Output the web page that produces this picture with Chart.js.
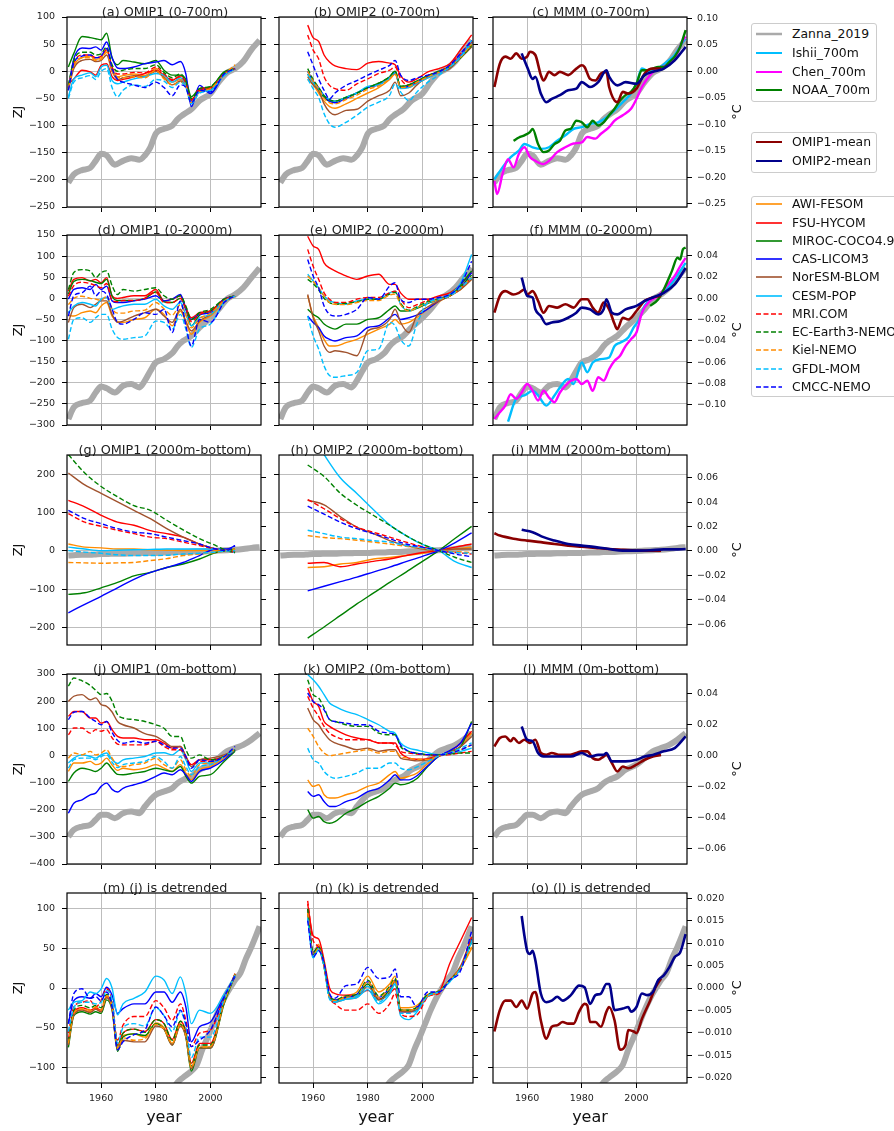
<!DOCTYPE html>
<html><head><meta charset="utf-8">
<script src="https://cdn.jsdelivr.net/npm/chart.js@4.4.1/dist/chart.umd.min.js"></script>
<style>
html,body{margin:0;padding:0;background:#fff;}
body{width:894px;height:1131px;overflow:hidden;position:relative;font-family:"DejaVu Sans",sans-serif;color:#111;}
canvas{position:absolute;}
.leg{position:absolute;background:#fff;border:1px solid #cccccc;border-radius:3px;box-sizing:border-box;}
.leg .it{position:absolute;left:0;height:18px;white-space:nowrap;}
.leg span{position:absolute;left:40px;top:0;line-height:18px;font-size:12.4px;color:#111;}
</style></head><body>
<script>
// ---------------- DATA ----------------
const MODELS = ['AWI-FESOM','FSU-HYCOM','MIROC-COCO4.9','CAS-LICOM3','NorESM-BLOM','CESM-POP','MRI.COM','EC-Earth3-NEMO','Kiel-NEMO','GFDL-MOM','CMCC-NEMO'];
const TITLES = ['(a) OMIP1 (0-700m)','(b) OMIP2 (0-700m)','(c) MMM (0-700m)','(d) OMIP1 (0-2000m)','(e) OMIP2 (0-2000m)','(f) MMM (0-2000m)','(g) OMIP1 (2000m-bottom)','(h) OMIP2 (2000m-bottom)','(i) MMM (2000m-bottom)','(j) OMIP1 (0m-bottom)','(k) OMIP2 (0m-bottom)','(l) MMM (0m-bottom)','(m) (j) is detrended','(n) (k) is detrended','(o) (l) is detrended'];
// axis ranges and tick labels per row
const zjRange = [[-250,100],[-300,150],[-245,250],[-400,300],[-120,120]];
const zjTicks = [
  [100,50,0,-50,-100,-150,-200,-250],
  [150,100,50,0,-50,-100,-150,-200,-250,-300],
  [200,100,0,-100,-200],
  [300,200,100,0,-100,-200,-300,-400],
  [100,50,0,-50,-100]
];
const degTicks = [
  [0.10,0.05,0.00,-0.05,-0.10,-0.15,-0.20,-0.25],
  [0.04,0.02,0.00,-0.02,-0.04,-0.06,-0.08,-0.10],
  [0.06,0.04,0.02,0.00,-0.02,-0.04,-0.06],
  [0.04,0.02,0.00,-0.02,-0.04,-0.06],
  [0.020,0.015,0.010,0.005,0.000,-0.005,-0.010,-0.015,-0.020]
];
const degDec = [2,2,2,2,3];
// ZJ -> degC conversion factor per row
const degPerZJ = [0.001023,0.000396,0.000315,0.000175,0.000177];
const yearTicks = [1960,1980,2000];

const G1 = [1948,1950,1953,1956,1958,1960,1962,1964,1966,1968,1972,1976,1980,1983,1986,1989,1991,1993,1996,2000,2005,2009];
const G2 = [1958,1960,1962,1964,1966,1968,1972,1976,1980,1984,1988,1990,1992,1995,1998,2002,2006,2010,2014,2018];
const GZ = [1948,1950,1953,1956,1958,1960,1962,1965,1968,1971,1974,1976,1978,1980,1983,1986,1988,1990,1993,1996,2000,2003,2006,2009,2012,2015,2018];

// Zanna_2019 per depth range (ZJ)
const z1 = [-205,-190,-182,-178,-165,-152,-155,-172,-165,-160,-163,-155,-140,-115,-106,-100,-88,-80,-70,-54,-41,-20,-3,5,18,40,57];
const z2 = [-286,-258,-248,-242,-223,-209,-213,-223,-207,-203,-211,-195,-172,-152,-144,-130,-113,-101,-89,-69,-46,-26,-2,9,25,49,72];
const z3 = [-12,-11,-10,-10,-9,-8,-8,-7,-7,-6,-6,-5,-5,-5,-4,-4,-3,-3,-2,-1,0,1,2,3,5,8,10];
const z4 = [-299,-274,-262,-256,-237,-219,-219,-231,-213,-207,-213,-188,-164,-145,-133,-121,-102,-90,-77,-53,-34,-10,15,27,39,58,82];
const z5yrs = [1985,1988,1990,1993,1995,1997,1999,2001,2003,2005,2007,2009,2011,2013,2015,2017,2018];
const z5 = [-135,-119,-113,-105,-97,-78,-62,-45,-28,-13,-1,10,19,37,52,69,78];

// (a) OMIP1 0-700m
const a_AWI = [-30,10,25,28,22,25,38,5,-10,-8,-5,-8,5,-10,-20,-15,-25,-55,-35,-30,-5,5];
const a_FSU = [-23,-14,2,-1,-7,11,14,-10,-17,-15,-10,-4,2,-7,-17,-8,-20,-54,-35,-32,-7,5];
const a_MIROC = [8,33,64,62,60,58,70,25,12,20,17,14,20,2,-7,-7,-15,-47,-32,-29,-1,5];
const a_CAS = [-32,23,43,42,45,39,54,25,6,5,8,14,17,20,12,18,-5,-65,-26,-41,-5,5];
const a_NorESM = [-35,5,20,22,18,20,30,0,-15,-12,-8,-10,0,-12,-25,-18,-28,-58,-38,-33,-6,5];
const a_CESM = [-47,-14,-7,-3,-10,8,11,-17,-23,-20,-14,-10,-4,-7,-20,-12,-25,-57,-38,-35,-7,5];
const a_MRI = [-28,15,30,30,25,28,40,8,-5,-5,-2,-3,8,-5,-15,-10,-22,-52,-32,-30,-4,5];
const a_EC = [-25,20,35,35,30,32,45,12,0,2,5,5,12,-2,-12,-5,-18,-50,-32,-28,-3,5];
const a_Kiel = [-30,10,25,25,20,22,35,0,-12,-12,-10,-12,2,-14,-25,-20,-28,-58,-38,-32,-6,12];
const a_GFDL = [-50,-20,-12,-8,-15,0,5,-30,-47,-35,-25,-28,-15,-18,-30,-20,-30,-60,-40,-36,-8,5];
const a_CMCC = [-35,15,28,30,25,28,42,5,-15,-20,-25,-30,-20,-30,-45,-25,-30,-58,-35,-38,-5,5];

// (b) OMIP2 0-700m
const b_AWI = [-15,-25,-40,-55,-65,-68,-60,-50,-40,-30,-15,-5,-30,-30,-22,-12,-3,8,25,48];
const b_FSU = [85,62,55,30,17,10,5,3,15,18,15,12,-8,-20,-14,-1,5,14,40,67];
const b_MIROC = [-5,-20,-35,-48,-55,-55,-48,-40,-30,-22,-10,0,-28,-25,-18,-8,0,8,25,45];
const b_CAS = [0,-18,-30,-45,-55,-58,-50,-40,-30,-25,-12,-3,-30,-28,-20,-10,-2,8,28,55];
const b_NorESM = [-10,-25,-35,-60,-75,-80,-72,-70,-55,-45,-35,-20,-45,-40,-25,-10,-3,5,25,45];
const b_CESM = [-5,-20,-32,-45,-52,-55,-48,-40,-28,-25,-12,-3,-32,-30,-22,-12,-3,8,26,52];
const b_MRI = [67,39,23,-10,-26,-32,-35,-23,-14,-4,2,8,-14,-26,-20,-8,-1,11,33,54];
const b_EC = [5,-15,-30,-45,-52,-55,-48,-40,-30,-22,-10,0,-28,-25,-18,-8,0,8,25,48];
const b_Kiel = [0,-18,-32,-50,-58,-60,-52,-44,-33,-27,-14,-5,-30,-28,-20,-10,-2,8,26,50];
const b_GFDL = [-14,-32,-48,-78,-97,-103,-94,-81,-66,-57,-44,-23,-38,-54,-38,-20,-7,8,27,57];
const b_CMCC = [36,11,-14,-35,-51,-40,-26,-17,-7,2,11,20,-7,-17,-12,-7,-1,11,33,57];

// (c) MMM 0-700m and observations
const c_yrs1 = [1948,1950,1952,1954,1956,1958,1960,1961,1963,1965,1966,1968,1970,1972,1975,1978,1980,1981,1983,1985,1987,1989,1990,1993,1995,1997,2000,2003,2006,2009];
const c_OMIP1 = [-29,14,27,23,33,23,27,36,30,-7,-17,-1,-7,-1,-7,5,11,8,-14,-17,-4,-1,-29,-57,-38,-41,-32,-4,5,5];
const c_yrs2 = [1958,1960,1962,1963,1965,1967,1969,1972,1975,1978,1980,1983,1986,1989,1990,1993,1996,2000,2003,2006,2010,2014,2018];
const c_OMIP2 = [33,8,-14,-10,-41,-57,-51,-44,-35,-32,-20,-29,-20,2,-10,-26,-20,-23,-7,-1,5,20,45];
const c_yrsChen = [1948,1949,1951,1953,1955,1957,1959,1961,1963,1966,1968,1971,1974,1977,1980,1982,1985,1987,1990,1992,1995,1998,2000,2002,2005,2008,2011,2014,2017,2018];
const c_Chen = [-202,-226,-189,-162,-177,-152,-140,-158,-165,-171,-165,-149,-140,-133,-131,-121,-124,-115,-103,-91,-81,-69,-51,-29,-7,5,11,23,57,64];
const c_yrsIshii = [1948,1951,1954,1957,1959,1962,1965,1968,1971,1974,1977,1980,1983,1986,1989,1992,1995,1998,2000,2002,2005,2008,2011,2014,2017,2018];
const c_Ishii = [-199,-177,-158,-146,-134,-140,-143,-140,-128,-118,-106,-103,-97,-94,-85,-72,-57,-41,-23,5,-1,5,17,30,54,60];
const c_yrsNOAA = [1955,1957,1959,1961,1962,1964,1966,1968,1970,1972,1974,1976,1978,1980,1982,1984,1986,1988,1990,1992,1994,1996,1998,2000,2002,2004,2006,2008,2010,2012,2014,2016,2018];
const c_NOAA = [-128,-122,-118,-112,-106,-134,-149,-146,-134,-128,-109,-106,-91,-94,-103,-91,-100,-94,-81,-69,-54,-44,-38,-23,2,2,5,8,8,17,27,45,76];

// (d) OMIP1 0-2000m
const d_AWI = [-40,-42,-34,-30,-34,-18,-10,-42,-55,-57,-50,-46,-26,-38,-65,-30,-57,-85,-57,-42,-10,6];
const d_FSU = [17,45,49,41,45,37,49,6,0,2,6,6,21,-6,-2,6,-22,-46,-34,-30,-2,6];
const d_MIROC = [10,40,45,42,38,35,45,5,-5,-5,-5,0,15,-8,-10,0,-25,-65,-40,-30,-4,6];
const d_CAS = [-2,21,25,21,33,21,29,-6,-10,-10,-6,-2,6,-6,-2,9,-26,-50,-38,-34,-2,6];
const d_NorESM = [-57,-22,-14,-22,-14,-6,-6,-38,-57,-54,-42,-34,-26,-42,-57,-26,-54,-77,-54,-38,-6,6];
const d_CESM = [-34,-18,-10,-14,-18,-2,2,-26,-22,-18,-14,-14,-2,-18,-26,-10,-38,-65,-46,-38,-6,6];
const d_MRI = [5,30,38,35,30,25,35,-5,-8,-5,-5,0,15,-10,-10,0,-25,-55,-38,-30,-4,6];
const d_EC = [21,61,68,65,49,61,65,30,9,21,17,21,25,6,-2,6,-18,-50,-34,-26,-2,6];
const d_Kiel = [-15,0,5,0,-2,-5,5,-25,-35,-35,-30,-28,-10,-25,-40,-15,-40,-70,-48,-36,-6,6];
const d_GFDL = [-97,-50,-46,-57,-46,-38,-38,-73,-93,-97,-93,-89,-54,-57,-73,-38,-73,-116,-73,-61,-10,6];
const d_CMCC = [-42,6,13,29,6,17,9,-26,-57,-61,-50,-34,-38,-26,-81,-6,-65,-113,-50,-57,-10,6];

// (e) OMIP2 0-2000m
const e_AWI = [6,-42,-69,-97,-113,-113,-105,-97,-85,-73,-61,-50,-61,-57,-45,-25,-8,6,21,45];
const e_FSU = [147,124,116,84,72,65,53,45,53,57,33,33,13,-2,-2,-2,6,13,33,61];
const e_MIROC = [-26,-38,-46,-61,-69,-73,-61,-61,-50,-46,-26,-18,-30,-30,-24,-12,-2,9,33,65];
const e_CAS = [-42,-57,-69,-89,-97,-101,-93,-89,-69,-65,-46,-38,-50,-46,-40,-25,-6,6,25,61];
const e_NorESM = [9,-46,-77,-113,-128,-124,-128,-136,-77,-69,-50,-26,-57,-81,-40,-20,-6,6,21,45];
const e_CESM = [57,41,25,6,-6,-10,-14,-6,-2,-2,13,17,-14,-30,-22,-10,-2,9,37,104];
const e_MRI = [116,76,45,13,-2,-10,-10,-2,2,2,13,17,-2,-22,-15,-5,-2,6,25,49];
const e_EC = [45,35,20,0,-10,-14,-12,-8,-2,-2,10,14,-12,-28,-20,-8,-2,6,28,55];
const e_Kiel = [53,40,25,5,-10,-14,-15,-10,-5,-5,8,10,-15,-30,-22,-10,-3,5,25,50];
const e_GFDL = [-42,-89,-120,-160,-183,-187,-183,-175,-124,-120,-57,-65,-97,-113,-60,-10,-2,6,25,49];
const e_CMCC = [92,53,25,-18,-38,-42,-38,-26,2,-2,29,37,-2,-10,-2,-2,2,9,33,88];

// (f) MMM 0-2000m and observations
const f_yrs1 = [1948,1950,1952,1955,1957,1959,1960,1962,1964,1966,1968,1971,1974,1977,1980,1982,1984,1986,1988,1990,1992,1993,1995,1997,2000,2003,2006,2009];
const f_OMIP1 = [-34,6,17,9,13,21,9,17,-6,-34,-18,-22,-14,-22,-2,-2,-22,-34,-10,-26,-61,-73,-46,-50,-30,-6,2,6];
const f_yrs2 = [1958,1960,1962,1963,1965,1967,1969,1972,1975,1978,1980,1983,1986,1988,1989,1991,1993,1996,2000,2003,2006,2010,2014,2018];
const f_OMIP2 = [49,6,2,-26,-42,-61,-57,-54,-46,-34,-22,-26,-38,-26,-2,-34,-38,-26,-18,-6,2,13,33,72];
const f_yrsChen = [1948,1950,1952,1954,1956,1958,1960,1962,1964,1966,1968,1970,1972,1974,1976,1978,1980,1982,1984,1986,1988,1990,1992,1994,1996,1998,2000,2002,2005,2008,2011,2014,2016,2018];
const f_Chen = [-286,-270,-254,-227,-238,-223,-203,-219,-242,-219,-235,-246,-223,-207,-195,-191,-203,-195,-219,-187,-195,-168,-148,-136,-113,-97,-81,-34,-6,6,29,53,76,96];
const f_yrsIshii = [1953,1956,1959,1962,1964,1967,1970,1972,1975,1977,1980,1982,1984,1987,1990,1992,1994,1997,1999,2001,2003,2005,2008,2011,2014,2018];
const f_Ishii = [-292,-238,-230,-219,-230,-254,-230,-211,-191,-203,-152,-175,-152,-144,-140,-113,-105,-93,-69,-50,-18,-2,6,21,45,84];
const f_yrsNOAA = [2005,2008,2010,2013,2015,2016,2017,2018];
const f_NOAA = [-18,-2,21,65,96,92,116,120];

// (g) OMIP1 2000m-bottom
const yrsG = [1948,1954,1960,1966,1972,1978,1984,1990,1996,2002,2006,2009];
const g_AWI = [18,10,8,5,5,3,2,1,1,1,1,1];
const g_FSU = [132,115,93,75,67,53,45,36,18,5,3,-4];
const g_MIROC = [-113,-109,-96,-82,-65,-56,-43,-34,-21,-4,1,5];
const g_CAS = [-161,-139,-118,-96,-74,-56,-43,-30,-12,5,5,14];
const g_NorESM = [203,172,150,128,106,84,58,36,18,5,1,-4];
const g_CESM = [10,5,1,2,3,4,5,5,5,5,1,-4];
const g_MRI = [97,75,64,54,45,36,32,23,14,5,1,-4];
const g_EC = [251,203,168,141,118,106,80,55,32,14,1,-4];
const g_Kiel = [-30,-31,-32,-31,-30,-25,-20,-12,-8,-4,0,5];
const g_GFDL = [1,-3,-6,-10,-12,-12,-11,-8,-6,-3,0,1];
const g_CMCC = [106,84,71,58,49,45,36,27,18,5,1,14];

// (h) OMIP2 2000m-bottom
const yrsH = [1958,1964,1970,1976,1982,1988,1994,2000,2006,2012,2018];
const h_AWI = [-43,-41,-34,-30,-21,-17,-12,-6,1,5,10];
const h_FSU = [-32,-30,-41,-34,-27,-21,-12,-4,1,10,18];
const h_MIROC = [-227,-198,-168,-138,-110,-82,-55,-27,1,33,64];
const h_CAS = [-104,-92,-80,-68,-55,-42,-28,-14,1,22,47];
const h_NorESM = [132,120,89,62,45,27,14,5,1,5,5];
const h_CESM = [320,251,190,150,108,68,40,17,1,-28,-43];
const h_MRI = [134,110,84,62,49,36,23,11,1,-4,-8];
const h_EC = [224,194,150,119,93,67,40,18,1,-17,-30];
const h_Kiel = [40,35,32,28,23,18,12,6,1,-2,-4];
const h_GFDL = [54,45,36,32,27,23,14,8,1,-4,-6];
const h_CMCC = [117,96,75,58,45,32,18,10,1,-8,-15];

// (i) MMM 2000m-bottom
const i_yrs1 = [1948,1950,1955,1960,1965,1970,1975,1980,1985,1990,1995,2000,2005,2009];
const i_OMIP1 = [46,40,32,27,23,18,14,11,8,5,3,1,1,1];
const i_yrs2 = [1958,1962,1966,1970,1975,1980,1985,1990,1995,2000,2005,2010,2014,2018];
const i_OMIP2 = [55,49,36,27,18,14,10,5,1,1,2,4,4,5];

// (j) OMIP1 0m-bottom
const j_AWI = [-59,-28,-28,-22,-34,-28,-10,-35,-55,-47,-53,-47,-34,-47,-59,-34,-65,-90,-53,-41,-10,21];
const j_FSU = [144,162,162,138,138,119,125,95,70,64,64,58,58,45,27,33,-4,-34,-16,-16,-4,21];
const j_MIROC = [-96,-65,-47,-53,-59,-47,-28,-50,-70,-71,-65,-59,-47,-53,-59,-41,-77,-102,-77,-71,-22,15];
const j_CAS = [-213,-176,-164,-145,-139,-114,-102,-125,-135,-121,-108,-96,-77,-65,-71,-53,-71,-96,-59,-47,-16,21];
const j_NorESM = [199,218,224,205,212,187,181,160,125,113,101,80,70,52,33,33,-4,-41,-16,-10,2,21];
const j_CESM = [-28,-10,2,-4,-10,2,9,-15,-30,-16,-10,-4,9,10,2,21,-16,-59,-28,-28,-4,21];
const j_MRI = [76,101,101,82,95,89,95,65,42,39,39,39,52,33,21,21,-10,-34,-22,-22,-4,21];
const j_EC = [255,285,275,258,240,224,228,200,150,138,132,125,113,100,70,70,21,-10,2,-16,-4,21];
const j_Kiel = [-10,9,2,15,2,9,21,-10,-38,-41,-34,-28,-10,-34,-47,-16,-53,-77,-34,-28,-4,21];
const j_GFDL = [-47,-16,-10,-10,-16,-4,2,-25,-45,-34,-28,-22,-4,-22,-47,-4,-41,-71,-41,-34,-4,21];
const j_CMCC = [132,159,162,138,125,113,125,85,55,45,52,45,52,39,27,27,-4,-47,-16,-22,-4,33];

// (k) OMIP2 0m-bottom
const k_AWI = [-90,-114,-108,-145,-157,-157,-145,-133,-114,-102,-71,-59,-84,-77,-65,-30,-2,12,33,82];
const k_FSU = [248,199,181,125,107,95,76,64,58,46,46,46,9,-10,-14,-12,0,15,46,89];
const k_MIROC = [-200,-231,-225,-244,-250,-244,-213,-194,-170,-151,-121,-102,-108,-102,-85,-40,-3,15,33,125];
const k_CAS = [-133,-151,-145,-170,-188,-188,-170,-157,-133,-121,-90,-71,-90,-90,-75,-38,-3,18,46,119];
const k_NorESM = [175,132,113,82,58,46,33,21,27,15,21,21,-10,-16,-20,-16,-2,12,33,70];
const k_CESM = [298,279,255,224,193,181,162,150,132,113,89,82,46,27,20,10,3,8,15,27];
const k_MRI = [218,175,144,107,82,70,58,58,58,46,46,39,15,9,5,2,0,3,9,15];
const k_EC = [279,224,212,175,132,125,113,107,107,82,76,76,33,15,8,3,2,5,9,9];
const k_Kiel = [101,70,33,9,-1,2,9,15,21,9,15,15,-4,-10,-14,-15,-2,8,21,39];
const k_GFDL = [27,-16,-28,-59,-77,-84,-77,-65,-47,-47,-28,-28,-47,-53,-42,-22,-2,10,27,46];
const k_CMCC = [230,199,187,168,132,125,119,113,113,89,82,76,39,15,8,3,2,8,21,39];

// (l) MMM 0m-bottom
const l_yrs1 = [1948,1950,1952,1954,1955,1957,1959,1961,1963,1965,1967,1969,1972,1975,1978,1980,1982,1984,1986,1988,1989,1991,1993,1995,1997,2000,2003,2006,2009];
const l_OMIP1 = [33,64,70,52,64,46,58,46,58,9,2,9,2,2,9,15,15,-10,-16,-4,2,-28,-59,-41,-47,-34,-16,-4,2];
const l_yrs2 = [1958,1960,1962,1964,1966,1968,1972,1976,1980,1983,1986,1988,1989,1991,1993,1996,2000,2003,2006,2010,2014,2018];
const l_OMIP2 = [107,58,52,9,-4,-4,-4,-4,9,-4,2,2,9,-22,-22,-22,-16,-4,2,15,27,70];

// (m) (j) detrended
const m_AWI = [-70,-33,-27,-30,-26,-30,-12,-25,-76,-60,-58,-62,-44,-50,-70,-45,-60,-100,-75,-74,-18,18];
const m_FSU = [-65,-30,-25,-28,-25,-28,-10,-22,-72,-57,-52,-55,-40,-45,-65,-42,-55,-95,-70,-70,-16,18];
const m_MIROC = [-75,-35,-30,-33,-30,-32,-15,-28,-80,-62,-58,-60,-45,-52,-72,-46,-62,-105,-76,-76,-20,16];
const m_CAS = [-45,-16,-11,-13,-7,-11,1,-9,-32,-26,-20,-20,-5,-5,-18,-5,-24,-68,-49,-43,-10,14];
const m_NorESM = [-72,-34,-28,-31,-27,-30,-12,-27,-78,-66,-68,-68,-48,-52,-72,-48,-62,-102,-76,-76,-18,18];
const m_CESM = [-28,-18,-16,-5,-7,-1,12,0,-34,-20,-13,-5,15,10,-7,14,-7,-45,-28,-32,-8,16];
const m_MRI = [-57,-24,-18,-16,-24,-16,-1,-16,-66,-47,-36,-36,-16,-25,-41,-20,-41,-74,-57,-53,-12,16];
const m_EC = [-68,-28,-22,-25,-22,-25,-8,-20,-73,-57,-52,-56,-40,-45,-66,-42,-58,-98,-72,-72,-17,17];
const m_Kiel = [-70,-32,-26,-28,-24,-28,-10,-24,-75,-63,-66,-64,-46,-52,-70,-46,-60,-100,-75,-74,-18,17];
const m_GFDL = [-55,-25,-18,-18,-20,-18,-3,-15,-70,-50,-45,-48,-25,-35,-55,-30,-48,-88,-62,-62,-14,16];
const m_CMCC = [-45,-7,-1,-13,-11,-16,-5,-24,-78,-68,-59,-53,-24,-35,-49,-28,-45,-74,-66,-53,-12,16];

// (n) (k) detrended
const n_AWI = [95,45,55,30,-10,-15,-10,-5,15,-5,5,15,-25,-25,-22,-8,-4,10,25,50];
const n_FSU = [106,66,62,35,0,-7,-9,-9,-3,-14,-7,-1,-28,-30,-28,-9,-5,31,60,89];
const n_MIROC = [95,42,50,28,-12,-17,-12,-10,5,-15,-2,10,-28,-28,-25,-10,-5,10,25,60];
const n_CAS = [100,45,52,30,-10,-15,-12,-8,8,-12,0,10,-30,-30,-28,-10,-5,10,25,62];
const n_NorESM = [98,44,50,28,-12,-18,-14,-12,2,-15,-5,8,-30,-30,-27,-10,-5,10,28,65];
const n_CESM = [90,40,50,28,-12,-17,-14,-12,-2,-20,-8,5,-35,-40,-30,-10,-5,8,25,60];
const n_MRI = [110,60,52,26,-11,-20,-28,-28,-20,-32,-20,-7,-32,-36,-34,-11,-7,10,26,64];
const n_EC = [100,45,52,30,-10,-15,-10,-8,10,-10,2,12,-28,-28,-24,-8,-4,10,25,58];
const n_Kiel = [95,42,50,28,-12,-16,-12,-10,8,-12,0,10,-28,-28,-25,-10,-5,10,25,52];
const n_GFDL = [88,38,48,26,-14,-18,-14,-10,2,-18,-5,5,-32,-32,-28,-10,-5,8,25,58];
const n_CMCC = [85,39,47,31,-7,-13,3,5,26,12,14,24,-11,-11,-24,-5,-5,10,22,72];

// (o) (l) detrended
const o_yrs1 = [1948,1950,1952,1954,1956,1958,1960,1962,1963,1965,1967,1969,1971,1973,1975,1977,1979,1981,1982,1983,1985,1987,1989,1990,1992,1994,1996,1997,1999,2000,2002,2005,2007,2009];
const o_OMIP1 = [-55,-28,-16,-16,-24,-16,-26,-7,-5,-41,-64,-49,-47,-43,-45,-45,-30,-20,-22,-43,-43,-49,-30,-24,-41,-78,-72,-53,-55,-57,-39,-16,1,12];
const o_yrs2 = [1958,1959,1960,1961,1962,1963,1965,1967,1969,1971,1973,1976,1979,1981,1983,1985,1987,1989,1990,1992,1995,1997,1998,2000,2002,2004,2006,2008,2010,2012,2014,2016,2018];
const o_OMIP2 = [91,66,47,43,47,35,-7,-18,-16,-11,-16,-9,3,1,-20,-9,-7,5,5,-28,-26,-24,-30,-24,-7,-9,-5,10,16,26,39,45,68];

// ---------------- STYLE / LAYOUT ----------------
Chart.defaults.font.family = "'DejaVu Sans', sans-serif";
const COLORS = ['#ff8c00','#ff0000','#008000','#0000ff','#a0522d','#00bfff','#ff0000','#008000','#ff8c00','#00bfff','#0000ff'];
const DASHED = [false,false,false,false,false,false,true,true,true,true,true];
const COL_LEFT = [67,279,493];
const ROW_TOP = [17,235,455,674,893];
const PW = 194, PH = 190, LW = 60, RW = 62, TH = 20;

function pts(xs, ys){ return ys.map((v,i)=>({x:xs[i], y:v})); }
function modelSets(xs, arrs){
  return arrs.map((a,i)=>({label:MODELS[i], data:pts(xs,a), borderColor:COLORS[i], borderWidth:1.4,
    borderDash: DASHED[i]?[5,2.5]:[], order:20-i, clip:0}));
}
function zanna(xs, ys){ return {label:'Zanna_2019', data:pts(xs,ys), borderColor:'#aaaaaa', borderWidth:6, order:50, clip:0}; }
function thick(label, xs, ys, color, order, w){ return {label, data:pts(xs,ys), borderColor:color, borderWidth:w||2.6, order, clip:0}; }
function means(x1,y1,x2,y2){ return [thick('OMIP1-mean',x1,y1,'#8b0000',30), thick('OMIP2-mean',x2,y2,'#00008b',29)]; }

const PANELS = [
  modelSets(G1,[a_AWI,a_FSU,a_MIROC,a_CAS,a_NorESM,a_CESM,a_MRI,a_EC,a_Kiel,a_GFDL,a_CMCC]).concat([zanna(GZ,z1)]),
  modelSets(G2,[b_AWI,b_FSU,b_MIROC,b_CAS,b_NorESM,b_CESM,b_MRI,b_EC,b_Kiel,b_GFDL,b_CMCC]).concat([zanna(GZ,z1)]),
  [zanna(GZ,z1), thick('Ishii_700m',c_yrsIshii,c_Ishii,'#00bfff',40,2.4), thick('Chen_700m',c_yrsChen,c_Chen,'#ff00ff',39,2.4), thick('NOAA_700m',c_yrsNOAA,c_NOAA,'#008000',38,2.4)].concat(means(c_yrs1,c_OMIP1,c_yrs2,c_OMIP2)),
  modelSets(G1,[d_AWI,d_FSU,d_MIROC,d_CAS,d_NorESM,d_CESM,d_MRI,d_EC,d_Kiel,d_GFDL,d_CMCC]).concat([zanna(GZ,z2)]),
  modelSets(G2,[e_AWI,e_FSU,e_MIROC,e_CAS,e_NorESM,e_CESM,e_MRI,e_EC,e_Kiel,e_GFDL,e_CMCC]).concat([zanna(GZ,z2)]),
  [zanna(GZ,z2), thick('Ishii',f_yrsIshii,f_Ishii,'#00bfff',40,2.4), thick('Chen',f_yrsChen,f_Chen,'#ff00ff',39,2.4), thick('NOAA',f_yrsNOAA,f_NOAA,'#008000',38,2.4)].concat(means(f_yrs1,f_OMIP1,f_yrs2,f_OMIP2)),
  modelSets(yrsG,[g_AWI,g_FSU,g_MIROC,g_CAS,g_NorESM,g_CESM,g_MRI,g_EC,g_Kiel,g_GFDL,g_CMCC]).concat([zanna(GZ,z3)]),
  modelSets(yrsH,[h_AWI,h_FSU,h_MIROC,h_CAS,h_NorESM,h_CESM,h_MRI,h_EC,h_Kiel,h_GFDL,h_CMCC]).concat([zanna(GZ,z3)]),
  [zanna(GZ,z3)].concat(means(i_yrs1,i_OMIP1,i_yrs2,i_OMIP2)),
  modelSets(G1,[j_AWI,j_FSU,j_MIROC,j_CAS,j_NorESM,j_CESM,j_MRI,j_EC,j_Kiel,j_GFDL,j_CMCC]).concat([zanna(GZ,z4)]),
  modelSets(G2,[k_AWI,k_FSU,k_MIROC,k_CAS,k_NorESM,k_CESM,k_MRI,k_EC,k_Kiel,k_GFDL,k_CMCC]).concat([zanna(GZ,z4)]),
  [zanna(GZ,z4)].concat(means(l_yrs1,l_OMIP1,l_yrs2,l_OMIP2)),
  modelSets(G1,[m_AWI,m_FSU,m_MIROC,m_CAS,m_NorESM,m_CESM,m_MRI,m_EC,m_Kiel,m_GFDL,m_CMCC]).concat([zanna(z5yrs,z5)]),
  modelSets(G2,[n_AWI,n_FSU,n_MIROC,n_CAS,n_NorESM,n_CESM,n_MRI,n_EC,n_Kiel,n_GFDL,n_CMCC]).concat([zanna(z5yrs,z5)]),
  [zanna(z5yrs,z5)].concat(means(o_yrs1,o_OMIP1,o_yrs2,o_OMIP2)),
];

const MINUS = '\u2212';
function fmtInt(v){ const r = Math.round(v); return (r<0? MINUS+Math.abs(r) : String(r)); }
function fmtDec(v,d){ if (Math.abs(v) < 1e-9) v = 0; const s = Math.abs(v).toFixed(d); return v<0 ? MINUS+s : s; }

const framePlugin = {
  id:'frame',
  afterDraw(chart){
    const {ctx, chartArea:a} = chart;
    ctx.save(); ctx.strokeStyle='#000'; ctx.lineWidth=1.2;
    ctx.strokeRect(a.left, a.top, a.right-a.left, a.bottom-a.top);
    ctx.restore();
  }
};
// right-hand "°C" axis label, rotated counter-clockwise like the left label
const degLabelPlugin = {
  id:'degLabel',
  afterDraw(chart, args, opts){
    if (!opts.show) return;
    const {ctx, chartArea:a} = chart;
    ctx.save();
    ctx.translate(a.right + RW - 4 - 7.8, (a.top + a.bottom)/2);
    ctx.rotate(-Math.PI/2);
    ctx.fillStyle = '#111';
    ctx.font = "13px 'DejaVu Sans', sans-serif";
    ctx.textAlign = 'center'; ctx.textBaseline = 'middle';
    ctx.fillText('°C', 0, 0);
    ctx.restore();
  }
};

PANELS.forEach((datasets, idx)=>{
  const row = Math.floor(idx/3), col = idx%3;
  const B = row===4 ? 48 : 30;
  const cv = document.createElement('canvas');
  const W = LW+PW+RW, H = TH+PH+B;
  cv.width = W; cv.height = H;
  cv.style.left = (COL_LEFT[col]-LW)+'px';
  cv.style.top = (ROW_TOP[row]-TH)+'px';
  cv.style.width = W+'px'; cv.style.height = H+'px';
  document.body.appendChild(cv);
  const [ymin,ymax] = zjRange[row];
  const f = degPerZJ[row];
  new Chart(cv.getContext('2d'), {
    type:'line',
    data:{datasets},
    options:{
      responsive:false, animation:false, devicePixelRatio:1, events:[],
      layout:{padding:0},
      elements:{point:{radius:0}, line:{cubicInterpolationMode:'monotone', tension:0}},
      plugins:{
        legend:{display:false}, tooltip:{enabled:false},
        title:{display:true, text:TITLES[idx], color:'#222', font:{size:12.8, weight:'normal', lineHeight:1.2}, padding:{top:8.32,bottom:-3.68}},
        degLabel:{show: col===2}
      },
      scales:{
        x:{type:'linear', position:'bottom', min:1947.5, max:2018.5,
          afterBuildTicks: s=>{ s.ticks = yearTicks.map(v=>({value:v})); },
          ticks:{display: row===4, callback:v=>String(v), color:'#222', font:{size:9.5}, padding:5, maxRotation:0, autoSkip:false},
          grid:{color:'#bdbdbd', lineWidth:1, drawTicks:true, tickLength:5, tickColor:'#000', tickWidth:1},
          border:{display:false},
          title:{display: row===4, text:'year', color:'#111', font:{size:16}, padding:{top:0,bottom:4}},
          afterFit: s=>{ s.height = B; }
        },
        y:{type:'linear', position:'left', min:ymin, max:ymax,
          afterBuildTicks: s=>{ s.ticks = zjTicks[row].map(v=>({value:v})); },
          ticks:{display: col===0, callback:v=>fmtInt(v), color:'#222', font:{size:9.5}, padding:7, autoSkip:false},
          grid:{color:'#bdbdbd', lineWidth:1, drawTicks:true, tickLength:5, tickColor:'#000', tickWidth:1},
          border:{display:false},
          title:{display: col===0, text:'ZJ', color:'#111', font:{size:13}, padding:{top:4,bottom:0}},
          afterFit: s=>{ s.width = LW; }
        },
        y2:{type:'linear', position:'right', min:ymin*f, max:ymax*f,
          afterBuildTicks: s=>{ s.ticks = degTicks[row].map(v=>({value:v})); },
          ticks:{display: col===2, callback:v=>fmtDec(v,degDec[row]), color:'#222', font:{size:9.5}, padding:5, autoSkip:false},
          grid:{drawOnChartArea:false, drawTicks:true, tickLength:5, tickColor:'#000', tickWidth:1},
          border:{display:false},
          title:{display:false},
          afterFit: s=>{ s.width = RW; }
        }
      }
    },
    plugins:[framePlugin, degLabelPlugin]
  });
});

// ---------------- LEGENDS (HTML) ----------------
const LEG_OBS = ['Zanna_2019','Ishii_700m','Chen_700m','NOAA_700m'];
const LEG_MEAN = ['OMIP1-mean','OMIP2-mean'];
function legendBox(left, top, width, height, labels, colors, widths, dashes, y0, step){
  const box = document.createElement('div');
  box.className = 'leg';
  box.style.cssText += `left:${left}px;top:${top}px;width:${width}px;height:${height}px;`;
  labels.forEach((t,i)=>{
    const cy = y0 + i*step;
    const it = document.createElement('div');
    it.className = 'it';
    it.style.top = (cy-9)+'px';
    it.style.width = (width-2)+'px';
    const svgNS = 'http://www.w3.org/2000/svg';
    const svg = document.createElementNS(svgNS,'svg');
    svg.setAttribute('width','30'); svg.setAttribute('height','18');
    svg.style.cssText = 'position:absolute;left:3px;top:0;';
    const ln = document.createElementNS(svgNS,'line');
    ln.setAttribute('x1','1'); ln.setAttribute('x2','27'); ln.setAttribute('y1','9'); ln.setAttribute('y2','9');
    ln.setAttribute('stroke', colors[i]); ln.setAttribute('stroke-width', widths[i]);
    if (dashes[i]) ln.setAttribute('stroke-dasharray','5,2.5');
    svg.appendChild(ln);
    const sp = document.createElement('span');
    sp.textContent = t;
    it.appendChild(svg); it.appendChild(sp);
    box.appendChild(it);
  });
  document.body.appendChild(box);
}
legendBox(751,23,126,79, LEG_OBS, ['#aaaaaa','#00bfff','#ff00ff','#008000'], [2.5,2,2,2], [false,false,false,false], 10, 18.8);
legendBox(751,132,126,41, LEG_MEAN, ['#8b0000','#00008b'], [2,2], [false,false], 8.7, 19);
legendBox(751,196,170,201, MODELS, COLORS, MODELS.map(()=>1.6), DASHED, 7.3, 18.27);
</script>
</body></html>
